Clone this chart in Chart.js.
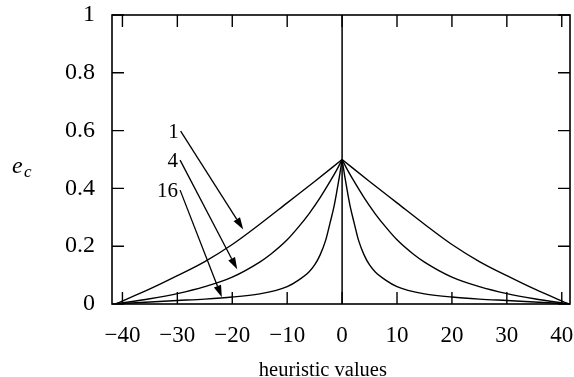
<!DOCTYPE html>
<html>
<head>
<meta charset="utf-8">
<script src="https://cdn.jsdelivr.net/npm/chart.js@4/dist/chart.umd.min.js"></script>
<style>
html,body{margin:0;padding:0;background:#fff;}
#wrap{width:574px;height:377px;}
</style>
</head>
<body>
<div id="wrap"><canvas id="c" width="574" height="377"></canvas></div>
<script>
// ---- data ----
const xTicks = [-40, -30, -20, -10, 0, 10, 20, 30, 40];
const yTicks = [0, 0.2, 0.4, 0.6, 0.8, 1];

const curve1X = [-41.3, -35, -30, -25, -20, -15, -10, -5, 0, 5, 10, 15, 20, 25, 30, 35, 41.3];
const curve1Y = [0, 0.052, 0.098, 0.147, 0.206, 0.276, 0.35, 0.424, 0.5, 0.424, 0.35, 0.276, 0.206, 0.147, 0.098, 0.052, 0];

const curve4X = [-41.3, -35, -30, -25, -20, -15, -13, -10, -8, -6, -4, -2, -1, 0, 1, 2, 4, 6, 8, 10, 13, 15, 20, 25, 30, 35, 41.3];
const curve4Y = [0, 0.018, 0.036, 0.06, 0.093, 0.145, 0.172, 0.222, 0.265, 0.313, 0.368, 0.43, 0.463, 0.5, 0.463, 0.43, 0.368, 0.313, 0.265, 0.222, 0.172, 0.145, 0.093, 0.06, 0.036, 0.018, 0];

const curve16X = [-41.3, -35, -30, -25, -20, -15, -12, -10, -8, -6, -5, -4, -3, -2.2, -1.5, -1, -0.5, 0, 0.5, 1, 1.5, 2.2, 3, 4, 5, 6, 8, 10, 12, 15, 20, 25, 30, 35, 41.3];
const curve16Y = [0, 0.007, 0.012, 0.017, 0.024, 0.035, 0.047, 0.06, 0.082, 0.112, 0.135, 0.17, 0.22, 0.28, 0.335, 0.385, 0.44, 0.5, 0.44, 0.385, 0.335, 0.28, 0.22, 0.17, 0.135, 0.112, 0.082, 0.06, 0.047, 0.035, 0.024, 0.017, 0.012, 0.007, 0];

const centerLineX = [0, 0];
const centerLineY = [0, 1];

// arrow annotations (labels and the curve points they indicate, in data units)
const arrowLabels = ['1', '4', '16'];
const arrowFromX = [-29.4, -29.5, -29.5];
const arrowFromY = [0.598, 0.498, 0.394];
const arrowToX = [-18.0, -19.1, -21.9];
const arrowToY = [0.258, 0.12, 0.023];

const yAxisLabel = 'e';
const yAxisSub = 'c';
const xAxisLabel = 'heuristic values';

function pts(xs, ys) { return xs.map((x, i) => ({x: x, y: ys[i]})); }

const FONT = "'Liberation Serif', 'Times New Roman', serif";

const lineDs = (data, mode) => ({
  data: data,
  showLine: true,
  borderColor: '#000',
  borderWidth: 1.4,
  pointRadius: 0,
  fill: false,
  cubicInterpolationMode: mode || 'monotone'
});

// each curve has a sharp cusp at its peak (x = 0): draw each side as its own smooth branch
function branches(xs, ys) {
  const all = pts(xs, ys);
  return [
    lineDs(all.filter(p => p.x <= 0)),
    lineDs(all.filter(p => p.x >= 0))
  ];
}

const framePlugin = {
  id: 'frame',
  afterDatasetsDraw(chart) {
    const ctx = chart.ctx;
    const a = chart.chartArea;
    const xs = chart.scales.x, ys = chart.scales.y;
    ctx.save();
    ctx.strokeStyle = '#000';
    ctx.fillStyle = '#000';
    ctx.lineWidth = 1.6;
    ctx.strokeRect(a.left, a.top, a.right - a.left, a.bottom - a.top);
    const tl = 12;
    ctx.lineWidth = 1.4;
    ctx.beginPath();
    xTicks.forEach(v => {
      const px = xs.getPixelForValue(v);
      ctx.moveTo(px, a.bottom); ctx.lineTo(px, a.bottom - tl);
      ctx.moveTo(px, a.top); ctx.lineTo(px, a.top + tl);
    });
    yTicks.forEach(v => {
      const py = ys.getPixelForValue(v);
      ctx.moveTo(a.left, py); ctx.lineTo(a.left + tl, py);
      ctx.moveTo(a.right, py); ctx.lineTo(a.right - tl, py);
    });
    ctx.stroke();

    // arrows with labels
    ctx.lineWidth = 1.3;
    ctx.font = '21px ' + FONT;
    ctx.textAlign = 'right';
    ctx.textBaseline = 'middle';
    arrowLabels.forEach((lab, i) => {
      const x0 = xs.getPixelForValue(arrowFromX[i]);
      const y0 = ys.getPixelForValue(arrowFromY[i]);
      const x1 = xs.getPixelForValue(arrowToX[i]);
      const y1 = ys.getPixelForValue(arrowToY[i]);
      ctx.fillText(lab, x0 - 2, y0 + 1);
      const ang = Math.atan2(y1 - y0, x1 - x0);
      const hl = 12, hw = 3.8;
      const bx = x1 - hl * Math.cos(ang), by = y1 - hl * Math.sin(ang);
      ctx.beginPath();
      ctx.moveTo(x0, y0); ctx.lineTo(bx, by);
      ctx.stroke();
      ctx.beginPath();
      ctx.moveTo(x1, y1);
      ctx.lineTo(bx + hw * Math.sin(ang), by - hw * Math.cos(ang));
      ctx.lineTo(bx - hw * Math.sin(ang), by + hw * Math.cos(ang));
      ctx.closePath();
      ctx.fill();
    });

    // y-axis label e_c
    const ly = ys.getPixelForValue(0.48);
    ctx.textAlign = 'left';
    ctx.textBaseline = 'alphabetic';
    ctx.font = 'italic 24px ' + FONT;
    ctx.fillText(yAxisLabel, 12, ly + 8);
    ctx.font = 'italic 17px ' + FONT;
    ctx.fillText(yAxisSub, 24, ly + 12);

    // x-axis title
    ctx.textAlign = 'center';
    ctx.font = '20.5px ' + FONT;
    ctx.fillText(xAxisLabel, xs.getPixelForValue(-3.5), chart.height - 1.5);
    ctx.restore();
  }
};

new Chart(document.getElementById('c'), {
  type: 'scatter',
  data: {
    datasets: [
      ...branches(curve1X, curve1Y),
      ...branches(curve4X, curve4Y),
      ...branches(curve16X, curve16Y),
      Object.assign(lineDs(pts(centerLineX, centerLineY), 'default'), {borderWidth: 1.5})
    ]
  },
  options: {
    responsive: false,
    animation: false,
    devicePixelRatio: 1,
    layout: {padding: {top: 15, right: 4, left: 0, bottom: 0}},
    plugins: {legend: {display: false}, tooltip: {enabled: false}},
    scales: {
      x: {
        type: 'linear',
        min: -41.9,
        max: 41.5,
        afterBuildTicks: s => { s.ticks = xTicks.map(v => ({value: v})); },
        afterFit: s => { s.height = 73; s.paddingLeft = 0; s.paddingRight = 0; },
        grid: {display: false, drawTicks: false},
        border: {display: false},
        ticks: {
          autoSkip: false, maxRotation: 0, minRotation: 0,
          color: '#000', padding: 18,
          font: {family: FONT, size: 23},
          callback: v => String(v).replace('-', '\u2212')
        },
        title: {display: false}
      },
      y: {
        type: 'linear',
        min: 0,
        max: 1,
        afterBuildTicks: s => { s.ticks = yTicks.map(v => ({value: v})); },
        afterFit: s => { s.width = 112; s.paddingTop = 0; s.paddingBottom = 0; },
        grid: {display: false, drawTicks: false},
        border: {display: false},
        ticks: {
          color: '#000', padding: 17,
          font: {family: FONT, size: 24},
          callback: v => String(v)
        }
      }
    }
  },
  plugins: [framePlugin]
});
</script>
</body>
</html>
